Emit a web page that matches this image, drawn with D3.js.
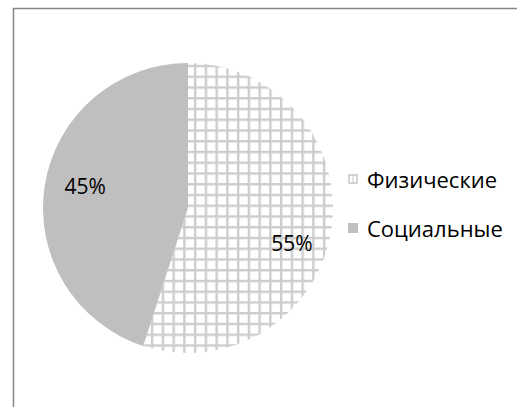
<!DOCTYPE html>
<html><head><meta charset="utf-8">
<script src="https://cdn.jsdelivr.net/npm/d3@7"></script>
<style>body{margin:0;background:#fff}svg{display:block}</style>
</head><body>
<svg id="c" width="517" height="407"></svg>
<script>
const categories = ["Физические", "Социальные"];
const values = [55, 45];
const labels = ["55%", "45%"];

const svg = d3.select("#c");
const W = 517, H = 407;
const cx = 188, cy = 208, R = 145;

const defs = svg.append("defs");
const pat = defs.append("pattern").attr("id","grid")
  .attr("patternUnits","userSpaceOnUse").attr("width",10.75).attr("height",10.75)
  .attr("x", 232.7 - 1).attr("y", 223.3 - 1);
pat.append("rect").attr("width",10.75).attr("height",10.75).attr("fill","#fff");
pat.append("rect").attr("x",0).attr("y",0).attr("width",2.4).attr("height",10.75).attr("fill","#cdcdcd");
pat.append("rect").attr("x",0).attr("y",0).attr("width",10.75).attr("height",2.4).attr("fill","#cdcdcd");

const fills = ["url(#grid)", "#bfbfbf"];

svg.append("rect").attr("x",13.5).attr("y",8.5).attr("width",W+20).attr("height",H+20)
  .attr("fill","none").attr("stroke","#868686").attr("stroke-width",1.5);

const pie = d3.pie().sort(null).value(d=>d);
const arcs = pie(values);
const arc = d3.arc().innerRadius(0).outerRadius(R);
const g = svg.append("g").attr("transform",`translate(${cx},${cy})`);
g.selectAll("path").data(arcs).join("path").attr("d",arc).attr("fill",(d,i)=>fills[i]);

const labelArc = d3.arc().innerRadius(0).outerRadius(R*1.45);
const labelShift = [[0,19],[1,-6]];
g.selectAll("text").data(arcs).join("text")
  .attr("x",(d,i)=>labelArc.centroid(d)[0]+labelShift[i][0])
  .attr("y",(d,i)=>labelArc.centroid(d)[1]+labelShift[i][1])
  .attr("text-anchor","middle").attr("dominant-baseline","central")
  .attr("font-family","Open Sans, sans-serif").attr("font-size",21).attr("fill","#000")
  .text((d,i)=>labels[i]);

const leg = svg.append("g").attr("transform","translate(348,0)");
const legY = d3.scalePoint().domain(categories).range([179,228]);
categories.forEach((c,i)=>{
  const y = legY(c);
  leg.append("rect").attr("x",0).attr("y",y-5).attr("width",10).attr("height",10)
    .attr("fill", i===0 ? "#fff" : "#bfbfbf");
  if(i===0){
    leg.append("rect").attr("x",1).attr("y",y-4).attr("width",8).attr("height",8).attr("fill","none").attr("stroke","#c6c6c6").attr("stroke-width",1.5);
    leg.append("line").attr("x1",5).attr("x2",5).attr("y1",y-5).attr("y2",y+5).attr("stroke","#c6c6c6").attr("stroke-width",1);
  }
  leg.append("text").attr("x",19).attr("y",y).attr("dominant-baseline","central")
    .attr("font-family","Open Sans, sans-serif").attr("font-size",22).attr("fill","#000")
    .text(c);
});
</script>
</body></html>
